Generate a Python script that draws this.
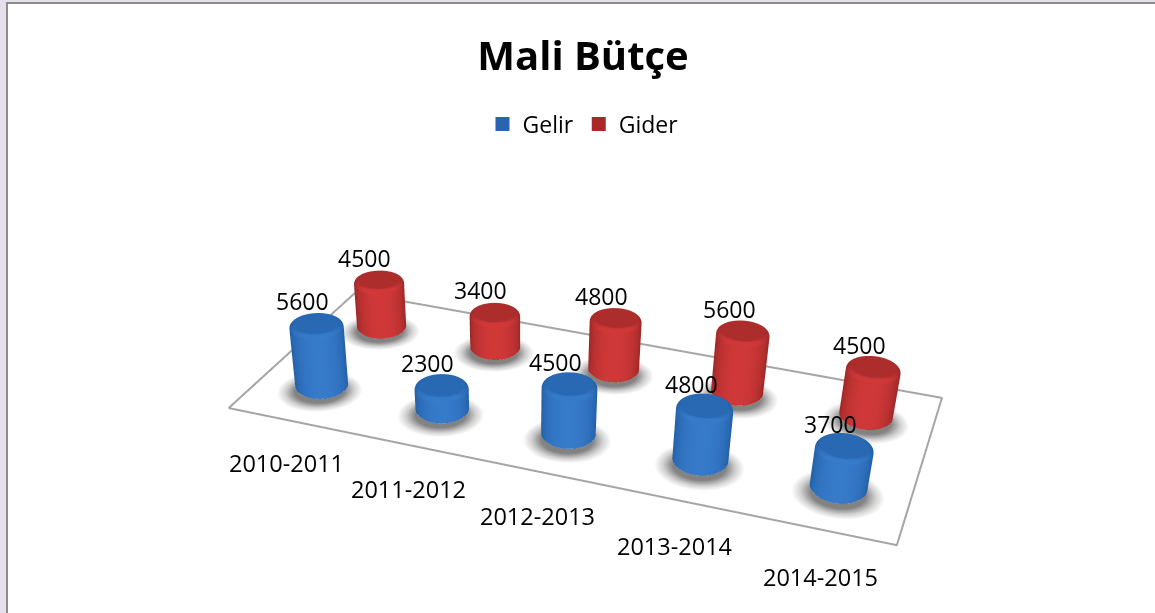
import numpy as np, plotly.graph_objects as go, math

categories = ["2010-2011", "2011-2012", "2012-2013", "2013-2014", "2014-2015"]
gelir = [5600, 2300, 4500, 4800, 3700]
gider = [4500, 3400, 4800, 5600, 4500]
label_x = [0.77, 1.707, 2.654, 3.621, 4.598]

ZMAX = 8000.0
H = 1226
W = 1155
eye, center, up = [0.601, -1.786, 1.028], [0.205, -0.563, 0.053], [0.336, -1.051, 1]
ayu, az = 0.215, 0.154

fig = go.Figure()
blue_scale = [[0, "rgb(28,80,140)"], [.5, "rgb(38,100,172)"], [1, "rgb(54,122,202)"]]
red_scale = [[0, "rgb(135,30,30)"], [.5, "rgb(165,42,42)"], [1, "rgb(208,56,56)"]]
Rw = 0.04
Rx, Ry = Rw*5, Rw/ayu
zu = ZMAX/az
FLAT = dict(ambient=1, diffuse=0, specular=0, fresnel=0, roughness=1)

def cyl(u, v, h, scale):
    th = np.linspace(0, 2*np.pi, 97)
    b = .18*Rw
    prof = [(0, h, 0, 0), (.7*Rw, h, 0, 0)]
    for q in np.linspace(0, 1, 7):
        a = q*np.pi/2
        prof.append((Rw-b+b*np.sin(a), h-(b-b*np.cos(a))*zu, 1, q))
    prof += [(Rw, h-.5*(h-b*zu), 2, 0), (Rw, b*.6*zu, 2, 0), (Rw-.5*b, 30, 2, 0)]
    pr = np.array(prof)
    c = np.array([u/5-.5, ayu*(v-.5)])
    thv = math.atan2(eye[1]-c[1], eye[0]-c[0])
    T, I = np.meshgrid(th, np.arange(len(pr)))
    r = pr[I, 0]; z = pr[I, 1]; kind = pr[I, 2]; q = pr[I, 3]
    s = np.clip(np.cos(T-thv), 0, 1)
    side = .22+.78*s**.9
    top = .6+0*s
    val = np.where(kind == 0, top, np.where(kind == 2, side, q*side+(1-q)*top+.3*np.sin(np.pi*q)*s))
    fig.add_trace(go.Surface(x=u+r*np.cos(T)/Rw*Rx, y=v+r*np.sin(T)/Rw*Ry, z=z, surfacecolor=val, cmin=0, cmax=1,
                             colorscale=scale, showscale=False, hoverinfo="skip", showlegend=False, lighting=FLAT))

def shadow(u, v):
    rr = np.linspace(0, 1.62, 30); th = np.linspace(0, 2*np.pi, 73)
    Rr, T = np.meshgrid(rr, th)
    fig.add_trace(go.Surface(x=u+.01+Rr*np.cos(T)*Rx, y=v-.05+Rr*np.sin(T)*Ry, z=0*Rr+1, surfacecolor=Rr, cmin=0, cmax=1.62,
                             colorscale=[[0, "rgb(100,100,100)"], [1, "rgb(100,100,100)"]], showscale=False, hoverinfo="skip",
                             opacityscale=[[0, .85], [.58, .8], [.8, .3], [1, 0]], showlegend=False, lighting=FLAT))

xs = [0, 5, 5, 0, 0]; ys = [0, 0, 2, 2, 0]
fig.add_trace(go.Scatter3d(x=xs, y=ys, z=[0]*5, mode="lines",
                           line=dict(color="rgb(165,165,165)", width=4), hoverinfo="skip", showlegend=False))
for i in range(5):
    shadow(i+.5, .5); shadow(i+.5, 1.5)
for i in range(5):
    cyl(i+.5, 1.5, gider[i], red_scale)
    cyl(i+.5, .5, gelir[i], blue_scale)

for name, col in (("Gelir", "rgb(40,100,175)"), ("Gider", "rgb(170,40,40)")):
    fig.add_trace(go.Scatter3d(x=[None], y=[None], z=[None], mode="markers", name=name,
                               marker=dict(symbol="square", size=14, color=col)))

ann = []
FONT = "Open Sans"
for i in range(5):
    for v, vals in ((.5, gelir), (1.5, gider)):
        ann.append(dict(x=i+.5, y=v, z=vals[i], text=str(vals[i]), showarrow=False, xshift=-14, yshift=22,
                        font=dict(family=FONT, size=23, color="black")))
    ann.append(dict(x=label_x[i], y=-.5, z=0, text=categories[i], showarrow=False,
                    font=dict(family=FONT, size=23.5, color="black")))

def py(p): return 1-p/H
fig.update_layout(
    width=W, height=H, margin=dict(l=0, r=0, t=0, b=0), paper_bgcolor="white",
    title=dict(text="<b>Mali Bütçe</b>", x=583/W, xanchor="center", y=py(56), yanchor="middle",
               font=dict(family=FONT, size=40, color="black")),
    legend=dict(orientation="h", x=583/W, xanchor="center", y=py(124), yanchor="middle", bgcolor="rgba(0,0,0,0)",
                font=dict(family=FONT, size=23, color="black")),
    shapes=[dict(type="rect", xref="paper", yref="paper", x0=0, x1=6/W, y0=0, y1=1, line_width=0, fillcolor="rgb(229,224,236)"),
            dict(type="rect", xref="paper", yref="paper", x0=0, x1=1, y0=py(2), y1=1, line_width=0, fillcolor="rgb(229,224,236)"),
            dict(type="rect", xref="paper", yref="paper", x0=6/W, x1=8/W, y0=0, y1=py(2), line_width=0, fillcolor="rgb(140,140,140)"),
            dict(type="rect", xref="paper", yref="paper", x0=6/W, x1=1, y0=py(4), y1=py(2), line_width=0, fillcolor="rgb(140,140,140)")],
    scene=dict(domain=dict(x=[0, 1], y=[0, 1]),
               xaxis=dict(visible=False, range=[-.5, 5.5]), yaxis=dict(visible=False, range=[-1.5, 2.5]), zaxis=dict(visible=False, range=[-500, 8500]),
               aspectmode="manual", aspectratio=dict(x=6/5, y=4*ayu, z=az*9000/8000),
               camera=dict(eye=dict(x=eye[0], y=eye[1], z=eye[2]), center=dict(x=center[0], y=center[1], z=center[2]),
                           up=dict(x=up[0], y=up[1], z=up[2])),
               annotations=ann),
)
fig.write_html("out.html", config=dict(displayModeBar=False),
               post_script="document.body.style.margin='0';document.documentElement.style.overflow='hidden';document.body.style.overflow='hidden';")
